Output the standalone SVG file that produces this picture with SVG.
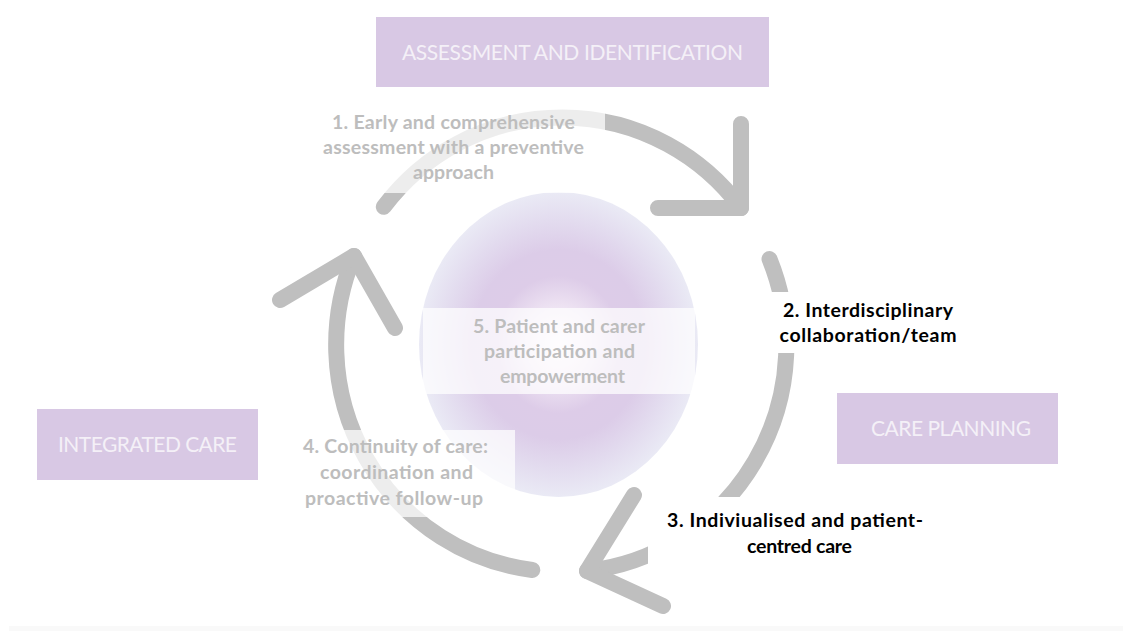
<svg xmlns="http://www.w3.org/2000/svg" width="1123" height="631" viewBox="0 0 1123 631">
  <defs>
    <radialGradient id="coreGrad" cx="0.5" cy="0.5" r="0.5">
      <stop offset="0" stop-color="#faf6fb"/>
      <stop offset="0.22" stop-color="#f0e6f4"/>
      <stop offset="0.45" stop-color="#ddcce8"/>
      <stop offset="0.62" stop-color="#dccce8"/>
      <stop offset="0.82" stop-color="#e3dcef"/>
      <stop offset="1" stop-color="#eaeaf5"/>
    </radialGradient>
    <style>
      .arc { fill: none; stroke: #bfbfbf; stroke-width: 16; stroke-linecap: round; stroke-linejoin: round; }
      .stage rect { fill: #d8c8e4; }
      .stage text { font-family: Lato, "Liberation Sans", sans-serif; font-size: 21px; fill: #f4f0f7; text-anchor: middle; }
      .veil { fill: #ffffff; fill-opacity: 0.72; }
      .solid { fill: #ffffff; }
      .lbl { font-family: Lato, "Liberation Sans", sans-serif; font-weight: bold; font-size: 19.5px; text-anchor: middle; }
      .muted { fill: #bdbdbd; }
      .dark { fill: #000000; }
    </style>
  </defs>

  <rect width="1123" height="631" fill="#ffffff"/>
  <rect x="9" y="626" width="1114" height="5" fill="#f9f9f9"/>

  <!-- central principle disc -->
  <g id="core">
    <ellipse cx="558.5" cy="344.5" rx="139.5" ry="152.5" fill="url(#coreGrad)"/>
  </g>

  <!-- cycle arrows -->
  <g id="connectors">
    <path class="arc" d="M383.8,206.8 A224,227 0 0 1 741,208"/>
    <path class="arc" d="M741,124 L741,208 L658,208"/>
    <path class="arc" d="M769.5,259 A224,227 0 0 1 587,571"/>
    <path class="arc" d="M634,495 L587,571 L663,606"/>
    <path class="arc" d="M532.3,570 A224,227 0 0 1 354,256"/>
    <path class="arc" d="M280,300 L354,256 L395,328"/>
  </g>

  <!-- principle 1 -->
  <g id="principle-1">
    <rect class="veil" x="310" y="105" width="295" height="88"/>
    <text class="lbl muted" x="453.5" y="129" textLength="243">1. Early and comprehensive</text>
    <text class="lbl muted" x="453.5" y="154" textLength="261">assessment with a preventive</text>
    <text class="lbl muted" x="453.5" y="179" textLength="81">approach</text>
  </g>

  <!-- principle 2 -->
  <g id="principle-2">
    <rect class="solid" x="766" y="292" width="200" height="61"/>
    <text class="lbl dark" x="868" y="317" textLength="170">2. Interdisciplinary</text>
    <text class="lbl dark" x="868" y="342" textLength="177">collaboration/team</text>
  </g>

  <!-- principle 3 -->
  <g id="principle-3">
    <rect class="solid" x="648" y="497" width="297" height="93"/>
    <text class="lbl dark" x="795" y="527" textLength="256">3. Indiviualised and patient-</text>
    <text class="lbl dark" x="799.5" y="553" textLength="105">centred care</text>
  </g>

  <!-- principle 4 -->
  <g id="principle-4">
    <rect class="veil" x="295" y="430" width="220" height="87"/>
    <text class="lbl muted" x="395.5" y="453" textLength="185">4. Continuity of care:</text>
    <text class="lbl muted" x="396.5" y="479" textLength="153">coordination and</text>
    <text class="lbl muted" x="394" y="505" textLength="178">proactive follow-up</text>
  </g>

  <!-- principle 5 -->
  <g id="principle-5">
    <rect class="veil" x="423" y="308" width="272" height="86"/>
    <text class="lbl muted" x="559" y="333" textLength="172">5. Patient and carer</text>
    <text class="lbl muted" x="559.5" y="358" textLength="151">participation and</text>
    <text class="lbl muted" x="562.5" y="383" textLength="125">empowerment</text>
  </g>

  <!-- stage headings -->
  <g id="assessment" class="stage">
    <rect x="376" y="17" width="393" height="70"/>
    <text x="572.5" y="60" textLength="341">ASSESSMENT AND IDENTIFICATION</text>
  </g>
  <g id="care-planning" class="stage">
    <rect x="837" y="393" width="221" height="71"/>
    <text x="951" y="436" textLength="160">CARE PLANNING</text>
  </g>
  <g id="integrated-care" class="stage">
    <rect x="37" y="409" width="221" height="71"/>
    <text x="147.5" y="452" textLength="179">INTEGRATED CARE</text>
  </g>
</svg>
